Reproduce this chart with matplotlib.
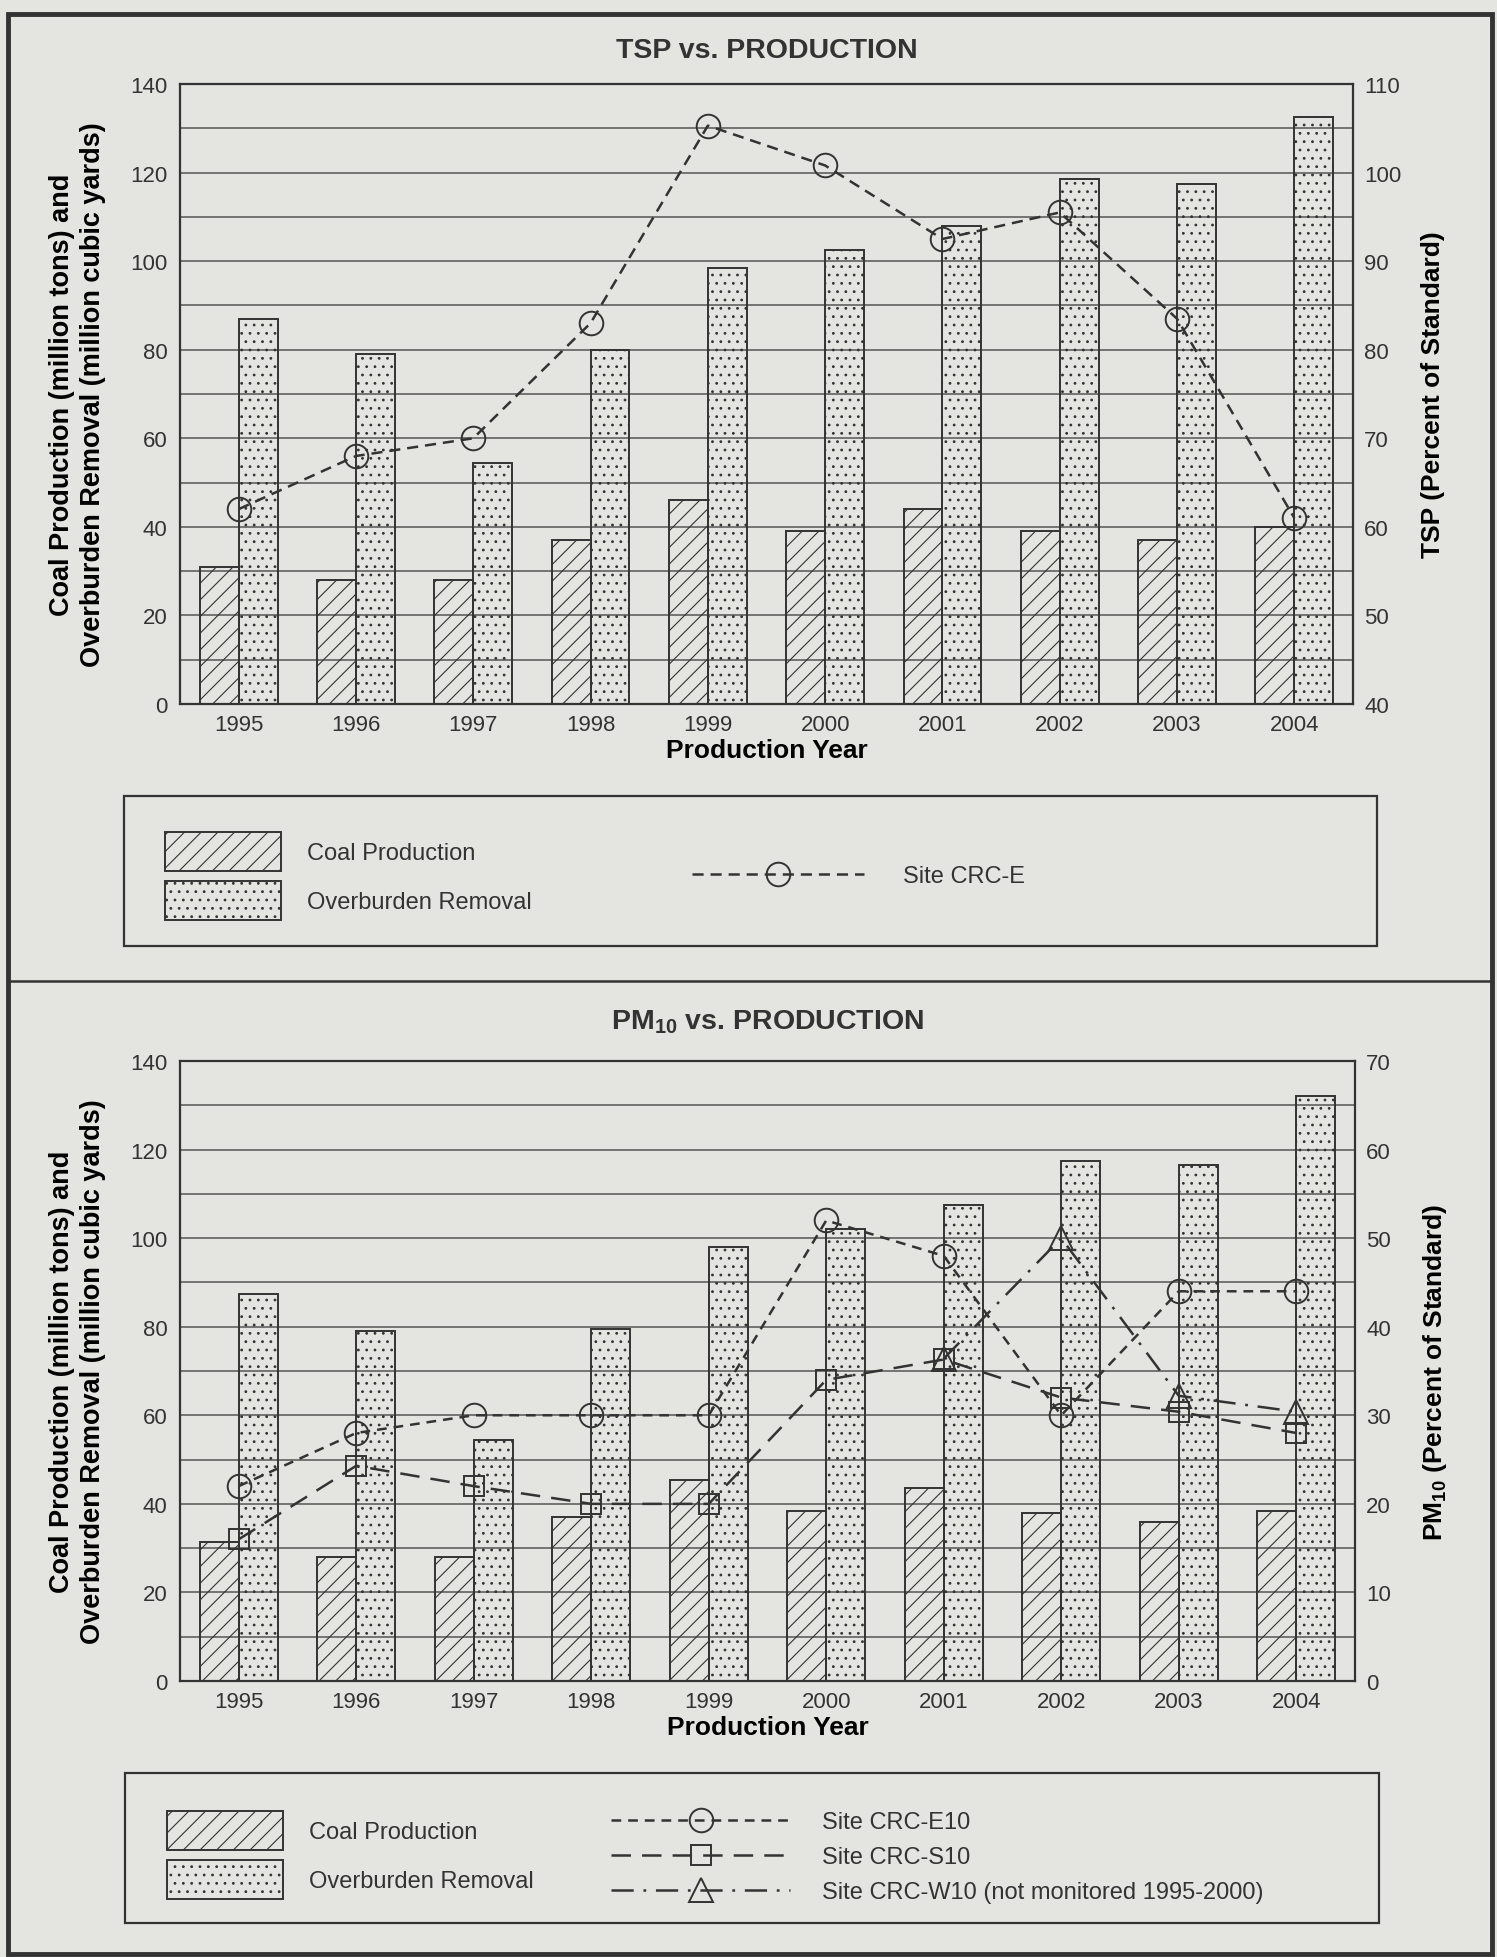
import numpy as np
import matplotlib
matplotlib.use('Agg')
import matplotlib.pyplot as plt
from matplotlib.patches import Rectangle, Patch
from matplotlib.lines import Line2D

years = ['1995', '1996', '1997', '1998', '1999', '2000', '2001', '2002', '2003', '2004']

# top panel: TSP
coal_top = [31, 28, 28, 37, 46, 39, 44, 39, 37, 40]
overburden_top = [87, 79, 54.5, 80, 98.5, 102.5, 108, 118.5, 117.5, 132.5]
tsp_crc_e = [62, 68, 70, 83, 105.3, 100.8, 92.5, 95.5, 83.5, 61]

# bottom panel: PM10
coal_bottom = [31.5, 28, 28, 37, 45.5, 38.5, 43.5, 38, 36, 38.5]
overburden_bottom = [87.5, 79, 54.5, 79.5, 98, 102, 107.5, 117.5, 116.5, 132]
pm_crc_e10 = [22, 28, 30, 30, 30, 52, 48, 30, 44, 44]
pm_crc_s10 = [16, 24.3, 22, 20, 20, 34, 36.3, 32, 30.4, 28]
pm_crc_w10 = [np.nan, np.nan, np.nan, np.nan, np.nan, np.nan, 36.4, 50, 32.2, 30.4]

bg = '#e4e4e0'
ink = '#333333'
W, H = 1497, 1958

plt.rcParams['font.family'] = ['Liberation Sans', 'DejaVu Sans']
plt.rcParams['mathtext.fontset'] = 'custom'
plt.rcParams['mathtext.rm'] = 'Liberation Sans'
plt.rcParams['mathtext.bf'] = 'Liberation Sans:bold'
plt.rcParams['hatch.linewidth'] = 0.8
plt.rcParams['hatch.color'] = '#555555'
plt.rcParams['lines.scale_dashes'] = False
plt.rcParams['text.color'] = ink

fig = plt.figure(figsize=(W / 100, H / 100), dpi=100, facecolor=bg)


def px_rect(x0, y0, x1, y1):
    return [x0 / W, 1 - y1 / H, (x1 - x0) / W, (y1 - y0) / H]


def draw_panel(rect, coal, overburden, right_lim, right_ticks, title, title_y, right_label):
    ax = fig.add_axes(rect)
    ax.set_facecolor('none')
    x = np.arange(len(years))
    w = 0.332
    ax.bar(x - w / 2, coal, w, facecolor='none', edgecolor=ink, linewidth=1.4,
           hatch='//', zorder=2)
    ax.bar(x + w / 2, overburden, w, facecolor='none', edgecolor=ink, linewidth=1.4,
           hatch='..', zorder=2)
    ax.set_xlim(-0.5, len(years) - 0.5)
    ax.set_ylim(0, 140)
    ax.set_xticks(x)
    ax.set_xticklabels(years)
    ax.set_yticks(range(0, 141, 20))
    ax.set_yticks(range(10, 140, 20), minor=True)
    ax.yaxis.grid(True, which='both', color='#555555', linewidth=1.1, zorder=0)
    ax.set_axisbelow(True)
    ax.tick_params(axis='both', which='both', length=0, labelsize=16, colors=ink)
    ax.tick_params(axis='x', pad=7)
    ax.tick_params(axis='y', pad=9)
    for s in ax.spines.values():
        s.set_linewidth(1.6)
        s.set_color(ink)
    ax.set_title(title, fontsize=20.5, fontweight='bold', color=ink, y=title_y, pad=0)
    ax.set_xlabel('Production Year', fontsize=19, fontweight='bold', va='center')
    ax.xaxis.set_label_coords(0.5, -0.074)
    ax.set_ylabel('Coal Production (million tons) and\nOverburden Removal (million cubic yards)',
                  fontsize=19.5, fontweight='bold', va='center', ha='center',
                  multialignment='center', linespacing=1.25)
    ax.yaxis.set_label_coords(-0.087, 0.5)

    ax2 = ax.twinx()
    ax2.set_ylim(*right_lim)
    ax2.set_yticks(right_ticks)
    ax2.tick_params(axis='y', length=0, labelsize=16, colors=ink, pad=8)
    for s in ax2.spines.values():
        s.set_visible(False)
    ax2.set_ylabel(right_label, fontsize=19, fontweight='bold', va='center', ha='center')
    ax2.yaxis.set_label_coords(1.068, 0.5)
    return ax, ax2


def legend_box(x0, y0, x1, y1):
    fig.patches.append(Rectangle((x0 / W, 1 - y1 / H), (x1 - x0) / W, (y1 - y0) / H,
                                 transform=fig.transFigure, facecolor='none',
                                 edgecolor=ink, linewidth=1.6))


bar_handles = [Patch(facecolor='none', edgecolor=ink, hatch='//', linewidth=1.4, label='Coal Production'),
               Patch(facecolor='none', edgecolor=ink, hatch='..', linewidth=1.4, label='Overburden Removal')]

# ---- TSP panel
ax, ax2 = draw_panel(px_rect(180, 85, 1353, 705), coal_top, overburden_top,
                     (40, 110), range(40, 111, 10), 'TSP vs. PRODUCTION', 1.043,
                     'TSP (Percent of Standard)')
ln_e, = ax2.plot(np.arange(len(years)), tsp_crc_e, color=ink, linewidth=1.8,
                 dashes=(8, 5), marker='o', markersize=17, markerfacecolor='none',
                 markeredgecolor=ink, markeredgewidth=1.4, label='Site CRC-E')

legend_box(124, 797, 1377, 947)
fig.legend(handles=bar_handles, loc='center left', bbox_to_anchor=(165 / W, 1 - 877 / H),
           frameon=False, fontsize=17, handlelength=4.9, handleheight=2.2,
           labelspacing=0.4, handletextpad=1.1, borderpad=0, borderaxespad=0)
fig.legend(handles=[ln_e], loc='center left', bbox_to_anchor=(692 / W, 1 - 877 / H),
           frameon=False, fontsize=17, handlelength=7.3, handletextpad=1.65,
           borderpad=0, borderaxespad=0, numpoints=1)

# divider between the two panels
fig.add_artist(Line2D([8 / W, 1492 / W], [1 - 982 / H, 1 - 982 / H], transform=fig.transFigure,
                      color=ink, linewidth=1.8))

# ---- PM10 panel
bx, bx2 = draw_panel(px_rect(180, 1062, 1355, 1682), coal_bottom, overburden_bottom,
                     (0, 70), range(0, 71, 10), r'PM$_{\mathbf{10}}$ vs. PRODUCTION', 1.053,
                     r'PM$_{\mathbf{10}}$ (Percent of Standard)')
xs = np.arange(len(years))
l_e10, = bx2.plot(xs, pm_crc_e10, color=ink, linewidth=1.8, dashes=(7, 5),
                  marker='o', markersize=17, markerfacecolor='none', markeredgecolor=ink,
                  markeredgewidth=1.4, label='Site CRC-E10')
l_s10, = bx2.plot(xs, pm_crc_s10, color=ink, linewidth=1.8, dashes=(14, 8),
                  marker='s', markersize=15, markerfacecolor='none', markeredgecolor=ink,
                  markeredgewidth=1.4, label='Site CRC-S10')
l_w10, = bx2.plot(xs, pm_crc_w10, color=ink, linewidth=1.8, dashes=(16, 7, 2, 7),
                  marker='^', markersize=17, markerfacecolor='none', markeredgecolor=ink,
                  markeredgewidth=1.4, label='Site CRC-W10 (not monitored 1995-2000)')

legend_box(125, 1774, 1379, 1924)
fig.legend(handles=bar_handles, loc='center left', bbox_to_anchor=(167 / W, 1 - 1856 / H),
           frameon=False, fontsize=17, handlelength=4.9, handleheight=2.2,
           labelspacing=0.4, handletextpad=1.1, borderpad=0, borderaxespad=0)
fig.legend(handles=[l_e10, l_s10, l_w10], loc='center left', bbox_to_anchor=(611 / W, 1 - 1858 / H),
           frameon=False, fontsize=17, handlelength=7.6, handletextpad=1.35,
           labelspacing=0.55, borderpad=0, borderaxespad=0, numpoints=1)

# outer frame
fig.patches.append(Rectangle((8 / W, 1 - 1955 / H), 1484 / W, 1940 / H, transform=fig.transFigure,
                             facecolor='none', edgecolor=ink, linewidth=3.5))

plt.savefig('out.png', dpi=100, facecolor=bg)
